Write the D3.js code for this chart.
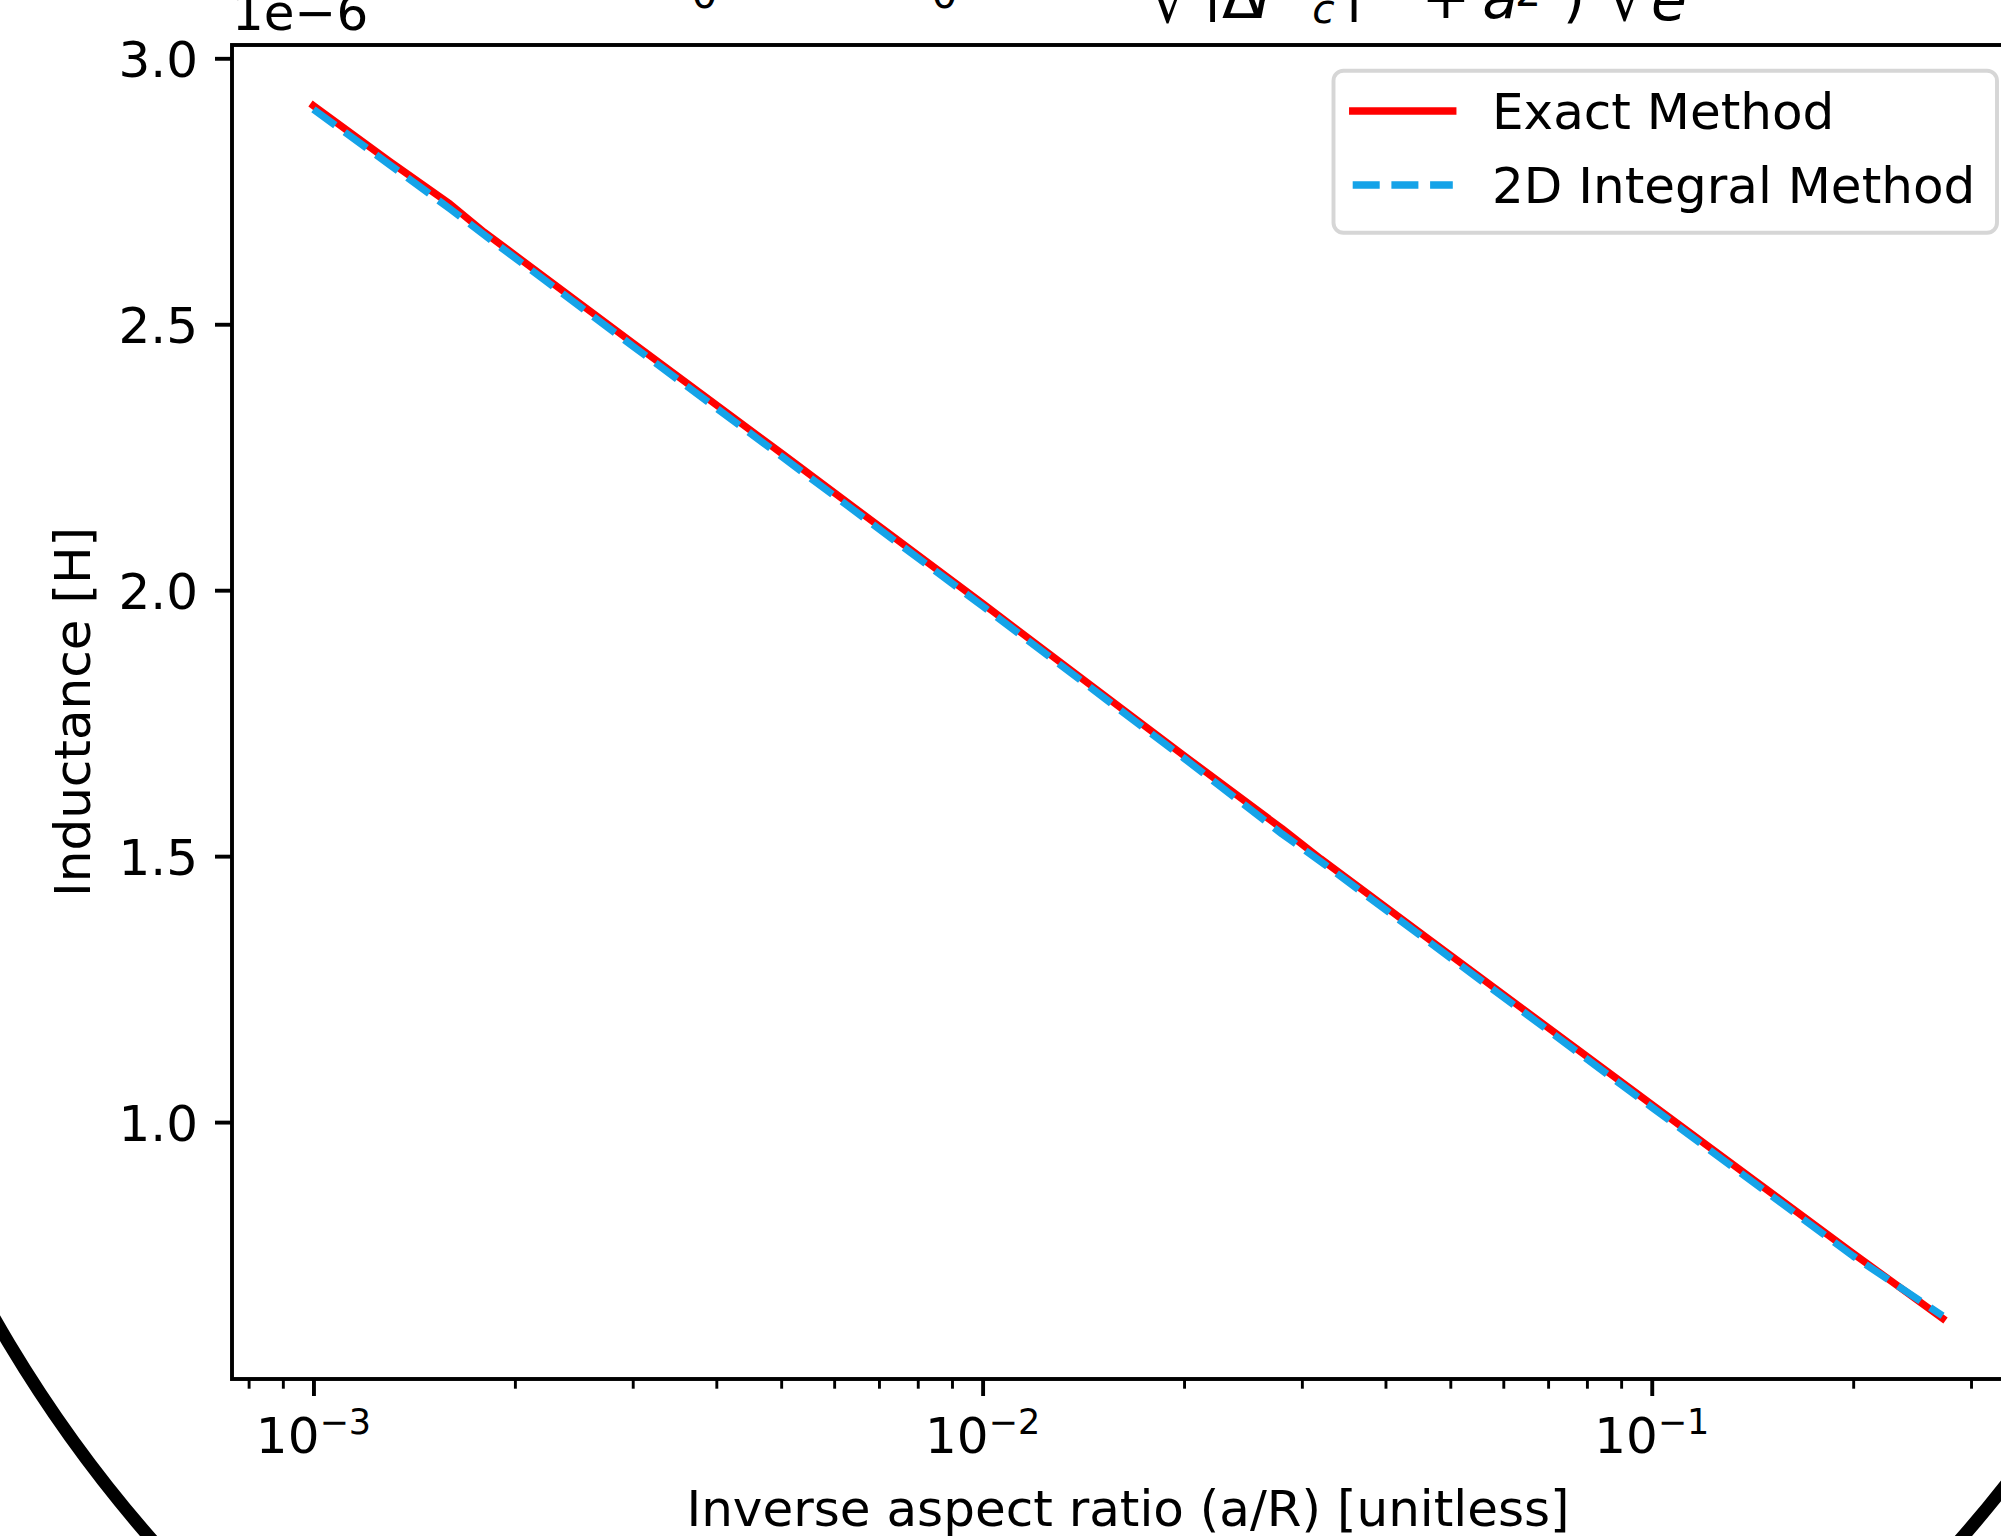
<!DOCTYPE html>
<html>
<head>
<meta charset="utf-8">
<script src="https://cdn.jsdelivr.net/npm/d3@7"></script>
<style>
	body { margin: 0; background: #fff; }
	svg { display: block; font-family: "DejaVu Sans", sans-serif; }
</style>
</head>
<body>
<div id="chart"></div>
<script>
'use strict';

// inverse aspect ratio a/R
const aspectRatio = [0.001, 0.0013, 0.0016, 0.0018, 0.003, 0.005, 0.01, 0.02, 0.028, 0.032, 0.05, 0.1, 0.2, 0.272];
// inductance, in units of 1e-6 H
const exactL    = [2.911, 2.806, 2.726, 2.673, 2.465, 2.258, 1.975, 1.689, 1.552, 1.495, 1.314, 1.033, 0.753, 0.631];
const integralL = [2.904, 2.800, 2.717, 2.668, 2.459, 2.252, 1.970, 1.684, 1.542, 1.490, 1.309, 1.028, 0.748, 0.636];

const seriesNames = ["Exact Method", "2D Integral Method"];
const yTicks = [1.0, 1.5, 2.0, 2.5, 3.0];
const xMajor = [1e-3, 1e-2, 1e-1];
const xExponents = ["\u22123", "\u22122", "\u22121"];

const width = 2001, height = 1536;
const fs = 50;            // ~10pt at 350 dpi
const lw = 7.3;           // 1.5pt
const spineW = 3.9;

// plot box; the right spine sits just past the edge of the picture
const box = { left: 232, top: 45, right: 2024, bottom: 1379 };

const svg = d3.select("#chart")
	.append("svg")
		.attr("width", width)
		.attr("height", height);

// big ring behind the figure, only its corners show
svg.append("ellipse")
	.attr("cx", 1056).attr("cy", 600)
	.attr("rx", 1250).attr("ry", 1361)
	.attr("fill", "none")
	.attr("stroke", "#000")
	.attr("stroke-width", 13);

// autoscale with 5% margins like matplotlib
const lx = aspectRatio.map(Math.log10);
const lxPad = (d3.max(lx) - d3.min(lx)) * 0.05;
const xScale = d3.scaleLog()
	.domain([10 ** (d3.min(lx) - lxPad), 10 ** (d3.max(lx) + lxPad)])
	.range([box.left, box.right]);

const allY = exactL.concat(integralL);
const yPad = (d3.max(allY) - d3.min(allY)) * 0.05;
const yScale = d3.scaleLinear()
	.domain([d3.min(allY) - yPad, d3.max(allY) + yPad])
	.range([box.bottom, box.top]);

svg.append("rect")
	.attr("x", box.left).attr("y", box.top)
	.attr("width", box.right - box.left)
	.attr("height", box.bottom - box.top)
	.attr("fill", "#fff");

// x axis: minor then major ticks
const minor = xScale.ticks().filter(v => !xMajor.some(m => Math.abs(m - v) / m < 1e-9));
const xMinorAxis = svg.append("g")
	.attr("transform", `translate(0,${box.bottom})`)
	.call(d3.axisBottom(xScale).tickValues(minor).tickSize(9.7).tickFormat(""));
xMinorAxis.select(".domain").remove();
xMinorAxis.selectAll("line").attr("stroke", "#000").attr("stroke-width", 2.9);

const xMajorAxis = svg.append("g")
	.attr("transform", `translate(0,${box.bottom})`)
	.call(d3.axisBottom(xScale).tickValues(xMajor).tickSize(17).tickFormat(""));
xMajorAxis.select(".domain").remove();
xMajorAxis.selectAll("line").attr("stroke", "#000").attr("stroke-width", spineW);

const xLab = svg.append("g").selectAll("text")
	.data(xMajor)
	.join("text")
		.attr("x", d => xScale(d))
		.attr("y", 1453)
		.attr("text-anchor", "middle")
		.attr("font-size", fs);
xLab.append("tspan").text("10");
xLab.append("tspan")
	.attr("font-size", 35)
	.attr("dy", -19)
	.text((d, i) => xExponents[i]);

// y axis
const yAxis = svg.append("g")
	.attr("transform", `translate(${box.left},0)`)
	.call(d3.axisLeft(yScale)
		.tickValues(yTicks)
		.tickSize(17)
		.tickPadding(17)
		.tickFormat(d3.format(".1f")));
yAxis.select(".domain").remove();
yAxis.selectAll("line").attr("stroke", "#000").attr("stroke-width", spineW);
yAxis.selectAll("text")
	.attr("font-size", fs)
	.attr("font-family", "DejaVu Sans")
	.attr("fill", "#000")
	.attr("dy", "0.36em");

// offset text
svg.append("text")
	.attr("x", box.left).attr("y", 30)
	.attr("font-size", fs)
	.text("1e\u22126");

// lines
const lineGen = (vals) => d3.line()
	.x((d, i) => xScale(aspectRatio[i]))
	.y((d, i) => yScale(vals[i]));

svg.append("path")
	.datum(exactL)
	.attr("d", lineGen(exactL))
	.attr("fill", "none")
	.attr("stroke", "#ff0000")
	.attr("stroke-width", lw)
	.attr("stroke-linecap", "square")
	.attr("stroke-linejoin", "round");

svg.append("path")
	.datum(integralL)
	.attr("d", lineGen(integralL))
	.attr("fill", "none")
	.attr("stroke", "#15a3e8")
	.attr("stroke-width", lw)
	.attr("stroke-dasharray", "27,11.7")
	.attr("stroke-linecap", "butt")
	.attr("stroke-linejoin", "round");

// spines on top
svg.append("rect")
	.attr("x", box.left).attr("y", box.top)
	.attr("width", box.right - box.left)
	.attr("height", box.bottom - box.top)
	.attr("fill", "none")
	.attr("stroke", "#000")
	.attr("stroke-width", spineW);

// axis labels
svg.append("text")
	.attr("x", 1128).attr("y", 1526)
	.attr("text-anchor", "middle")
	.attr("font-size", fs)
	.text("Inverse aspect ratio (a/R) [unitless]");

svg.append("text")
	.attr("transform", `translate(90,${(box.top + box.bottom) / 2}) rotate(-90)`)
	.attr("text-anchor", "middle")
	.attr("font-size", fs)
	.text("Inductance [H]");

// legend
const legend = svg.append("g");
legend.append("rect")
	.attr("x", 1333.5).attr("y", 70.7)
	.attr("width", 663.5).attr("height", 162)
	.attr("rx", 10)
	.attr("fill", "#fff").attr("fill-opacity", 0.8)
	.attr("stroke", "#d6d6d6")
	.attr("stroke-width", spineW);

legend.append("line")
	.attr("x1", 1352.7).attr("x2", 1452.8)
	.attr("y1", 111).attr("y2", 111)
	.attr("stroke", "#ff0000").attr("stroke-width", lw)
	.attr("stroke-linecap", "square");
legend.append("line")
	.attr("x1", 1352.7).attr("x2", 1452.8)
	.attr("y1", 185).attr("y2", 185)
	.attr("stroke", "#15a3e8").attr("stroke-width", lw)
	.attr("stroke-dasharray", "27,11.7");

legend.selectAll("text.lab")
	.data(seriesNames)
	.join("text")
		.attr("class", "lab")
		.attr("x", 1492)
		.attr("y", (d, i) => i === 0 ? 129 : 203.3)
		.attr("font-size", fs)
		.text(d => d);

// title, mostly cut off by the top edge: only glyph bottoms show
const titleBits = [
	{ t: "0", x: 704.5, y: 8, s: 40.8 },
	{ t: "0", x: 944.5, y: 8, s: 40.8 },
	{ t: "\u221a", x: 1170, y: 22, s: 58.3 },
	{ t: "|", x: 1212.5, y: 8, s: 58.3 },
	{ t: "\u0394", x: 1242, y: 17.5, s: 58.3 },
	{ t: "r", x: 1266, y: 17.5, s: 58.3, it: true },
	{ t: "c", x: 1323.5, y: 22.5, s: 40.8, it: true },
	{ t: "|", x: 1354, y: 7.5, s: 58.3 },
	{ t: "+", x: 1446, y: 17.5, s: 58.3 },
	{ t: "a", x: 1500, y: 17.5, s: 58.3, it: true },
	{ t: "2", x: 1528, y: 6, s: 40.8 },
	{ t: ")", x: 1574, y: 16, s: 58.3 },
	{ t: "\u221a", x: 1627, y: 20, s: 58.3 },
	{ t: "e", x: 1669, y: 19.5, s: 58.3, it: true }
];
svg.append("g").selectAll("text")
	.data(titleBits)
	.join("text")
		.attr("x", d => d.x)
		.attr("y", d => d.y)
		.attr("text-anchor", "middle")
		.attr("font-size", d => d.s)
		.attr("font-style", d => d.it ? "oblique" : "normal")
		.text(d => d.t);
</script>
</body>
</html>
